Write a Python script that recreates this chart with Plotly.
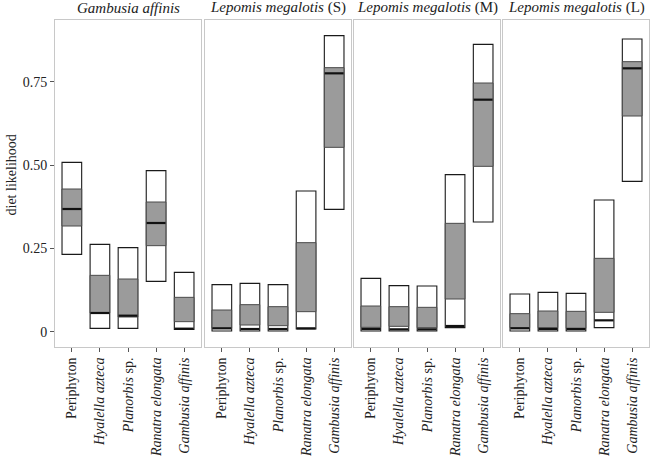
import plotly.graph_objects as go

categories = ["Periphyton", "<i>Hyalella azteca</i>", "<i>Planorbis</i> sp.",
              "<i>Ranatra elongata</i>", "<i>Gambusia affinis</i>"]
panels = ["<i>Gambusia affinis</i>", "<i>Lepomis megalotis</i> (S)",
          "<i>Lepomis megalotis</i> (M)", "<i>Lepomis megalotis</i> (L)"]

# per panel: 95% interval, 50% interval, median
lo95_ga = [0.232, 0.010, 0.010, 0.151, 0.007]
hi95_ga = [0.508, 0.262, 0.252, 0.483, 0.178]
lo50_ga = [0.317, 0.056, 0.044, 0.258, 0.030]
hi50_ga = [0.428, 0.169, 0.158, 0.389, 0.103]
med_ga = [0.368, 0.056, 0.048, 0.326, 0.009]

lo95_s = [0.002, 0.002, 0.002, 0.008, 0.367]
hi95_s = [0.141, 0.145, 0.141, 0.422, 0.888]
lo50_s = [0.010, 0.020, 0.018, 0.060, 0.553]
hi50_s = [0.065, 0.081, 0.075, 0.267, 0.792]
med_s = [0.010, 0.008, 0.008, 0.010, 0.775]

lo95_m = [0.002, 0.002, 0.002, 0.012, 0.329]
hi95_m = [0.160, 0.138, 0.137, 0.471, 0.862]
lo50_m = [0.013, 0.016, 0.012, 0.098, 0.496]
hi50_m = [0.077, 0.075, 0.073, 0.325, 0.746]
med_m = [0.008, 0.007, 0.007, 0.017, 0.696]

lo95_l = [0.002, 0.002, 0.002, 0.012, 0.451]
hi95_l = [0.113, 0.118, 0.115, 0.395, 0.878]
lo50_l = [0.012, 0.012, 0.010, 0.058, 0.647]
hi50_l = [0.054, 0.062, 0.061, 0.220, 0.810]
med_l = [0.010, 0.008, 0.008, 0.034, 0.790]

data = [
    (lo95_ga, hi95_ga, lo50_ga, hi50_ga, med_ga),
    (lo95_s, hi95_s, lo50_s, hi50_s, med_s),
    (lo95_m, hi95_m, lo50_m, hi50_m, med_m),
    (lo95_l, hi95_l, lo50_l, hi50_l, med_l),
]

yticks = [0, 0.25, 0.5, 0.75]
yticklabels = ["0", "0.25", "0.50", "0.75"]

FONT = "Liberation Serif"
W, H = 651, 461
ML, MR, MT, MB = 55, 2, 20, 114
px_panels = [(55, 201), (205, 351), (354, 500), (503, 649)]
pw = W - ML - MR

fig = go.Figure()
xs = list(range(len(categories)))
for i, (lo95, hi95, lo50, hi50, med) in enumerate(data):
    ax = "" if i == 0 else str(i + 1)
    fig.add_trace(go.Bar(
        x=xs, y=[h - l for l, h in zip(lo95, hi95)], base=lo95, width=0.7,
        marker=dict(color="white", line=dict(color="#1a1a1a", width=1.1)),
        xaxis="x" + ax, yaxis="y" + ax, showlegend=False, hoverinfo="skip"))
    fig.add_trace(go.Bar(
        x=xs, y=[h - l for l, h in zip(lo50, hi50)], base=lo50, width=0.7,
        marker=dict(color="#9b9b9b", line=dict(color="#4a4a4a", width=1)),
        xaxis="x" + ax, yaxis="y" + ax, showlegend=False, hoverinfo="skip"))
    fig.add_trace(go.Scatter(
        x=xs, y=med, mode="markers",
        marker=dict(symbol="line-ew", size=13.5, color="black",
                    line=dict(color="#111111", width=2.2)),
        xaxis="x" + ax, yaxis="y" + ax, showlegend=False, hoverinfo="skip"))

layout = dict(
    width=W, height=H, barmode="overlay",
    margin=dict(l=ML, r=MR, t=MT, b=MB),
    plot_bgcolor="white", paper_bgcolor="white",
    font=dict(family=FONT, size=14, color="#222222"),
)
annotations = []
for i in range(4):
    ax = "" if i == 0 else str(i + 1)
    x0, x1 = px_panels[i]
    dom = [(x0 - ML) / pw, (x1 - ML) / pw]
    layout["xaxis" + ax] = dict(
        domain=dom, range=[-0.6, 4.6], tickvals=xs, ticktext=categories,
        tickangle=-90, ticks="outside", ticklen=4, tickcolor="#555555",
        showline=True, mirror=True, linecolor="#c8c8c8", linewidth=1,
        showgrid=False, zeroline=False, anchor="y" + ax, automargin=False,
        tickfont=dict(family=FONT, size=14, color="#222222"))
    layout["yaxis" + ax] = dict(
        range=[-0.046, 0.935], tickvals=yticks, ticktext=yticklabels,
        showticklabels=(i == 0), ticks="outside" if i == 0 else "",
        ticklen=4, tickcolor="#555555", automargin=False,
        showline=True, mirror=True, linecolor="#c8c8c8", linewidth=1,
        showgrid=False, zeroline=False, anchor="x" + ax,
        tickfont=dict(family=FONT, size=14, color="#222222"),
        matches=None if i == 0 else "y")
    annotations.append(dict(
        text=panels[i], xref="paper", yref="paper",
        x=(dom[0] + dom[1]) / 2, xanchor="center", y=1, yshift=2, yanchor="bottom",
        showarrow=False, font=dict(family=FONT, size=15, color="#222222")))
annotations.append(dict(
    text="diet likelihood", xref="paper", yref="paper",
    x=0, xshift=-44, xanchor="center", y=0.5, yshift=8, yanchor="middle",
    textangle=-90, showarrow=False,
    font=dict(family=FONT, size=14, color="#222222")))
layout["annotations"] = annotations
fig.update_layout(**layout)
fig.write_html("out.html", config={"displayModeBar": False},
               post_script="document.body.style.margin='0px';document.body.style.overflow='hidden';")
